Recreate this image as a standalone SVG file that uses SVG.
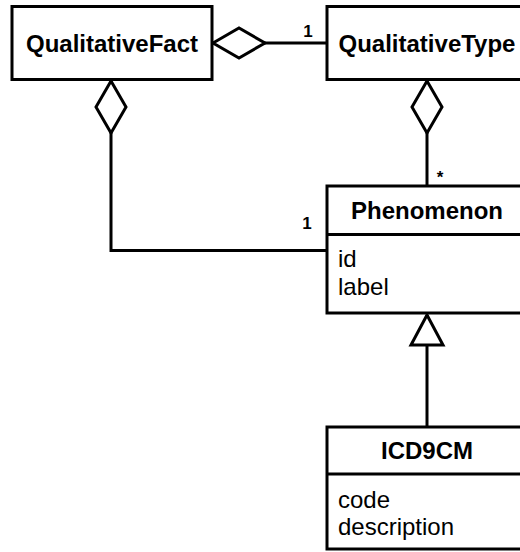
<svg xmlns="http://www.w3.org/2000/svg" width="520" height="552" viewBox="0 0 520 552">
  <style>
    .box { fill: #fff; stroke: #000; stroke-width: 3; }
    .sep { stroke: #000; stroke-width: 3; }
    .title { font-family: "Liberation Sans", Arial, sans-serif; font-weight: bold; font-size: 24px; text-anchor: middle; fill: #000; }
    .attr { font-family: "Liberation Sans", Arial, sans-serif; font-size: 24px; fill: #000; }
    .mult { font-family: "Liberation Sans", Arial, sans-serif; font-weight: bold; font-size: 17px; fill: #000; text-anchor: middle; }
    .link { fill: none; stroke: #000; stroke-width: 3; }
  </style>
  <defs>
    <!-- hollow diamond: aggregation at the owning end -->
    <marker id="diamond" markerUnits="userSpaceOnUse" markerWidth="60" markerHeight="40" refX="0" refY="15" orient="auto" overflow="visible">
      <path d="M0,15 L26,0 L52,15 L26,30 Z" fill="#fff" stroke="#000" stroke-width="3"/>
    </marker>
    <!-- hollow triangle: generalization -->
    <marker id="triangle" markerUnits="userSpaceOnUse" markerWidth="40" markerHeight="40" refX="30" refY="16" orient="auto" overflow="visible">
      <path d="M0,0 L30,16 L0,32 Z" fill="#fff" stroke="#000" stroke-width="3"/>
    </marker>
  </defs>

  <rect width="520" height="552" fill="#fff"/>

  <g id="connectors">
    <path class="link" d="M213,43 H327" marker-start="url(#diamond)"/>
    <path class="link" d="M111,81 V250.5 H327" marker-start="url(#diamond)"/>
    <path class="link" d="M427,81 V186" marker-start="url(#diamond)"/>
    <path class="link" d="M427,427 V315" marker-end="url(#triangle)"/>
    <text class="mult" x="308" y="37">1</text>
    <text class="mult" x="307" y="229">1</text>
    <text class="mult" x="440" y="183" font-size="19">*</text>
  </g>

  <g id="QualitativeFact">
    <rect class="box" x="12" y="6.5" width="200" height="73"/>
    <text class="title" x="112" y="52">QualitativeFact</text>
  </g>

  <g id="QualitativeType">
    <rect class="box" x="327" y="6.5" width="200" height="73"/>
    <text class="title" x="427" y="52">QualitativeType</text>
  </g>

  <g id="Phenomenon">
    <rect class="box" x="327" y="186" width="200" height="127"/>
    <line class="sep" x1="327" y1="234.5" x2="527" y2="234.5"/>
    <text class="title" x="427" y="219">Phenomenon</text>
    <text class="attr" x="338" y="267">id</text>
    <text class="attr" x="338" y="295">label</text>
  </g>

  <g id="ICD9CM">
    <rect class="box" x="327" y="427" width="200" height="122"/>
    <line class="sep" x1="327" y1="474" x2="527" y2="474"/>
    <text class="title" x="427" y="459">ICD9CM</text>
    <text class="attr" x="338" y="508">code</text>
    <text class="attr" x="338" y="535">description</text>
  </g>
</svg>
